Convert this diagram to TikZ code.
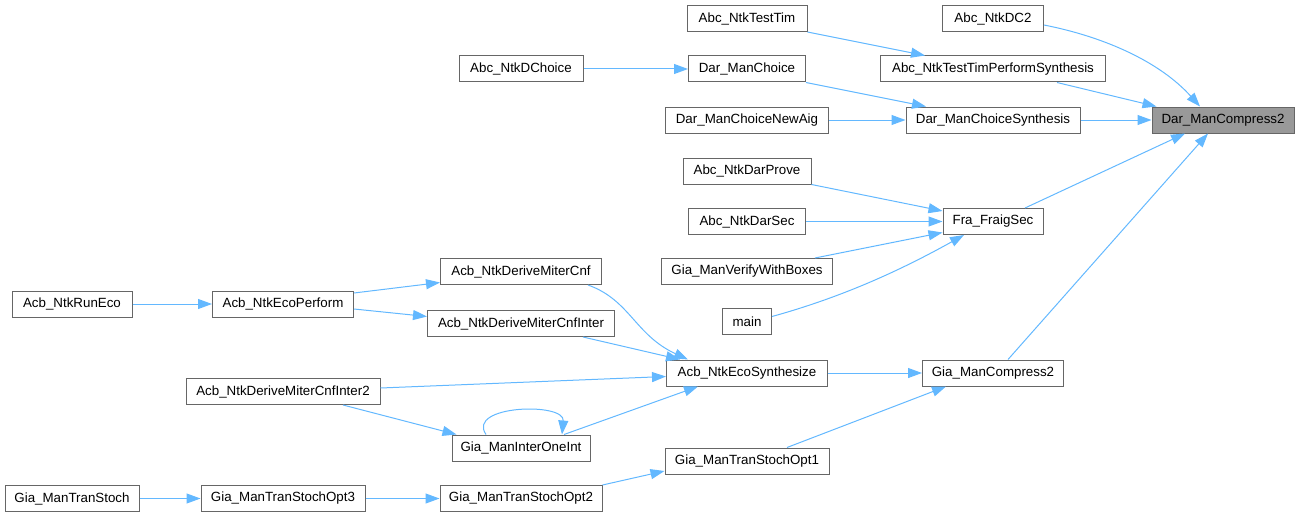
\documentclass[tikz,border=0pt]{standalone}
\usepackage{fontspec}
\setmainfont{Liberation Sans}
\usetikzlibrary{arrows.meta,calc}
\definecolor{edgeblue}{HTML}{63B8FF}
\definecolor{boxborder}{HTML}{666666}
\definecolor{hlfill}{HTML}{999999}
\tikzset{
  fn/.style={draw=boxborder, line width=0.75pt, fill=white, text=black,
    minimum height=19.5pt, inner sep=0pt, font=\fontsize{10}{12}\selectfont},
  bw/.style={minimum width=#1*0.75pt},
  hl/.style={fill=hlfill},
  edge/.style={draw=edgeblue, line width=0.75pt,
    -{Triangle[length=10.5pt,width=7.5pt]}}
}
\begin{document}
\begin{tikzpicture}[x=0.75pt,y=-0.75pt]
\useasboundingbox (0,0) rectangle (1299,517);
% column 6
\node[fn,hl,bw=142] (dmc2) at (1223,120) {Dar\_ManCompress2};
% column 5
\node[fn,bw=101] (dc2) at (993,18.5) {Abc\_NtkDC2};
\node[fn,bw=225] (ttps) at (993,69) {Abc\_NtkTestTimPerformSynthesis};
\node[fn,bw=174] (dmcs) at (993,120) {Dar\_ManChoiceSynthesis};
\node[fn,bw=100] (ffs) at (993,221.5) {Fra\_FraigSec};
\node[fn,bw=141] (gmc2) at (993,373) {Gia\_ManCompress2};
% column 4
\node[fn,bw=120] (tt) at (747,18.5) {Abc\_NtkTestTim};
\node[fn,bw=117] (dmch) at (747,69) {Dar\_ManChoice};
\node[fn,bw=163] (dmcna) at (747,120) {Dar\_ManChoiceNewAig};
\node[fn,bw=128] (adp) at (747,171) {Abc\_NtkDarProve};
\node[fn,bw=117] (ads) at (747,221.5) {Abc\_NtkDarSec};
\node[fn,bw=171] (gvwb) at (747,271.5) {Gia\_ManVerifyWithBoxes};
\node[fn,bw=49] (main) at (747,321.5) {main};
\node[fn,bw=161] (aes) at (747,373) {Acb\_NtkEcoSynthesize};
\node[fn,bw=164] (gts1) at (747,461) {Gia\_ManTranStochOpt1};
% column 3
\node[fn,bw=124] (dch) at (521,69) {Abc\_NtkDChoice};
\node[fn,bw=161] (admc) at (521,271.5) {Acb\_NtkDeriveMiterCnf};
\node[fn,bw=187] (admci) at (521,323.5) {Acb\_NtkDeriveMiterCnfInter};
\node[fn,bw=138] (gmioi) at (521,448) {Gia\_ManInterOneInt};
\node[fn,bw=162] (gts2) at (521,498.5) {Gia\_ManTranStochOpt2};
% column 2
\node[fn,bw=141] (aep) at (283,304) {Acb\_NtkEcoPerform};
\node[fn,bw=194] (admci2) at (283,391.5) {Acb\_NtkDeriveMiterCnfInter2};
\node[fn,bw=164] (gts3) at (283,498.5) {Gia\_ManTranStochOpt3};
% column 1
\node[fn,bw=120] (are) at (72,304) {Acb\_NtkRunEco};
\node[fn,bw=134] (gts) at (72,498.5) {Gia\_ManTranStoch};
% edges
\draw[edge] ($(dc2.east)+(0,6.5)$) .. controls (1105,37) and (1160,62) .. ($(dmc2.north)+(-23,0)$);
\draw[edge] ($(ttps.south)+(64,0)$) -- ($(dmc2.north west)+(5,0)$);
\draw[edge] (dmcs.east) -- (dmc2.west);
\draw[edge] ($(ffs.north)+(32,0)$) -- ($(dmc2.south)+(-38,0)$);
\draw[edge] ($(gmc2.north)+(15,0)$) -- ($(dmc2.south)+(-15,0)$);
\draw[edge] (tt.south east) -- ($(ttps.north)+(-68,0)$);
\draw[edge] (dch.east) -- (dmch.west);
\draw[edge] (dmch.south east) -- ($(dmcs.north)+(-67,0)$);
\draw[edge] (dmcna.east) -- (dmcs.west);
\draw[edge] (adp.south east) -- ($(ffs.west)+(0,-10.5)$);
\draw[edge] (ads.east) -- (ffs.west);
\draw[edge] ($(gvwb.north)+(68,0)$) -- ($(ffs.west)+(0,11)$);
\draw[edge] ($(main.east)+(0,-5)$) .. controls (850,295) and (910,265) .. ($(ffs.south)+(-29,0)$);
\draw[edge] (are.east) -- (aep.west);
\draw[edge] ($(aep.east)+(0,-11)$) -- ($(admc.west)+(0,11)$);
\draw[edge] ($(aep.east)+(0,5)$) -- ($(admci.west)+(0,-7)$);
\draw[edge] ($(admc.south)+(67,0)$) .. controls (630,300) and (635,335) .. ($(aes.north)+(-59,0)$);
\draw[edge] ($(admci.south)+(62,0)$) -- ($(aes.north)+(-67,0)$);
\draw[edge] ($(admci2.east)+(0,-3.5)$) -- ($(aes.west)+(0,3.5)$);
\draw[edge] ($(admci2.south)+(60,0)$) -- ($(gmioi.north west)+(5,0)$);
\draw[edge] ($(gmioi.north)+(-35,0)$) .. controls (466,405) and (565,402) .. ($(gmioi.north)+(41,0)$);
\draw[edge] ($(gmioi.north)+(43,0)$) -- ($(aes.south)+(-49,0)$);
\draw[edge] (aes.east) -- (gmc2.west);
\draw[edge] ($(gts1.north)+(40,0)$) -- ($(gmc2.south)+(-47,0)$);
\draw[edge] (gts.east) -- (gts3.west);
\draw[edge] (gts3.east) -- (gts2.west);
\draw[edge] (gts2.north east) -- ($(gts1.west)+(0,10)$);
\end{tikzpicture}
\end{document}
